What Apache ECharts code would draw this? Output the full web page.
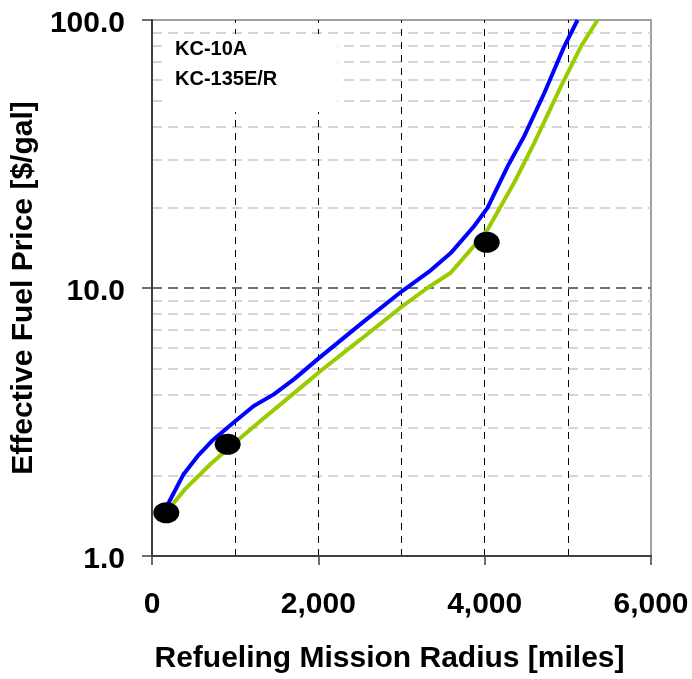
<!DOCTYPE html>
<html>
<head>
<meta charset="utf-8">
<script src="https://cdn.jsdelivr.net/npm/echarts@6/dist/echarts.min.js"></script>
<style>
  html, body { margin: 0; padding: 0; background: #fff; }
  #chart { width: 692px; height: 679px; }
</style>
</head>
<body>
<div id="chart"></div>
<script>
// 数据
var kc10Radius = [175, 200, 380, 560, 722, 1003, 1223, 1464, 1705, 2000, 2500, 3000, 3331, 3592, 3872, 4034, 4275, 4474, 4716, 4956, 5117];
var kc10Price = [1.47, 1.58, 2.02, 2.38, 2.69, 3.19, 3.63, 4.01, 4.56, 5.45, 7.3, 9.7, 11.5, 13.5, 17.0, 19.9, 28.4, 36.8, 53.3, 79.6, 100];
var kc135Radius = [175, 241, 401, 702, 1023, 1304, 1545, 1906, 2000, 2500, 3000, 3311, 3592, 3833, 4034, 4354, 4595, 4916, 5157, 5358];
var kc135Price = [1.47, 1.55, 1.78, 2.20, 2.69, 3.19, 3.68, 4.56, 4.83, 6.4, 8.5, 10.0, 11.4, 13.9, 16.5, 24.7, 34.7, 56.4, 79.6, 100];
var pointRadius = [172, 910, 4025];
var pointPrice = [1.45, 2.61, 14.8];

var xTickValues = [0, 2000, 4000, 6000];
var xGridValues = [1000, 2000, 3000, 4000, 5000];
var yMajorGrid = [10];
var yMinorGrid = [2, 3, 4, 5, 6, 7, 8, 9, 20, 30, 40, 50, 60, 70, 80, 90];

var font = 'Liberation Sans, Arial, sans-serif';

function pairs(xs, ys) {
    var out = [];
    for (var i = 0; i < xs.length; i++) {
        out.push([xs[i], ys[i]]);
    }
    return out;
}

function lines(values, axis, style) {
    return values.map(function (v) {
        var d = {lineStyle: style};
        d[axis] = v;
        return d;
    });
}

var gridLines = []
    .concat(lines(yMinorGrid, 'yAxis', {color: '#c8c8c8', width: 1.5, type: [10, 6]}))
    .concat(lines(yMajorGrid, 'yAxis', {color: '#707070', width: 2, type: [10, 6]}))
    .concat(lines(xGridValues, 'xAxis', {color: '#000', width: 1, type: [7, 6]}));

var myChart = echarts.init(document.getElementById('chart'));

var option = {
    animation: false,
    backgroundColor: '#fff',
    textStyle: {fontFamily: font},
    grid: {
        left: 152, right: 41, top: 20, bottom: 122,
        show: true,
        borderColor: '#a0a0a0',
        borderWidth: 2
    },
    legend: {
        data: ['KC-10A', 'KC-135E/R'],
        orient: 'vertical',
        left: 168,
        top: 34,
        icon: 'none',
        itemWidth: 2,
        itemHeight: 14,
        itemGap: 10,
        itemStyle: {opacity: 0},
        lineStyle: {opacity: 0},
        selectedMode: false,
        backgroundColor: '#fff',
        padding: [5, 60, 23, 0],
        textStyle: {fontFamily: font, fontSize: 20, fontWeight: 'bold', color: '#000', lineHeight: 20}
    },
    xAxis: {
        type: 'value',
        min: 0,
        max: 6000,
        interval: 1000,
        z: 3,
        name: 'Refueling Mission Radius [miles]',
        nameLocation: 'middle',
        nameGap: 88,
        nameTextStyle: {fontFamily: font, fontSize: 30, fontWeight: 'bold', color: '#000', padding: [0, 24, 0, 0]},
        axisLine: {lineStyle: {color: '#404040', width: 2}},
        axisTick: {show: true, length: 9, customValues: xTickValues, lineStyle: {color: '#404040', width: 1.5}},
        axisLabel: {
            customValues: xTickValues,
            margin: 34,
            fontFamily: font,
            fontSize: 30,
            fontWeight: 'bold',
            color: '#000',
            formatter: function (v) {
                if (v % 2000 !== 0) return '';
                return v.toLocaleString('en-US');
            }
        },
        splitLine: {show: false}
    },
    yAxis: {
        type: 'log',
        logBase: 10,
        min: 1,
        max: 100,
        z: 3,
        name: 'Effective Fuel Price [$/gal]',
        nameLocation: 'middle',
        nameGap: 105,
        nameTextStyle: {fontFamily: font, fontSize: 30, fontWeight: 'bold', color: '#000'},
        axisLine: {lineStyle: {color: '#404040', width: 2}},
        axisTick: {show: true, length: 10, lineStyle: {color: '#404040', width: 1.5}},
        axisLabel: {
            margin: 27,
            fontFamily: font,
            fontSize: 30,
            fontWeight: 'bold',
            color: '#000',
            formatter: function (v) { return '{v|' + Number(v).toFixed(1) + '}'; },
            rich: {
                v: {fontFamily: font, fontSize: 30, fontWeight: 'bold', color: '#000', padding: [7, 0, 0, 0]}
            }
        },
        splitLine: {show: false},
        minorTick: {show: false}
    },
    series: [
        {
            name: 'points',
            type: 'scatter',
            z: 3,
            symbol: 'circle',
            symbolSize: [26, 21],
            itemStyle: {color: '#000', opacity: 1},
            data: pairs(pointRadius, pointPrice),
            markLine: {
                silent: true,
                z: 1,
                symbol: 'none',
                label: {show: false},
                animation: false,
                data: gridLines
            }
        },
        {
            name: 'KC-10A',
            type: 'line',
            showSymbol: false,
            symbol: 'none',
            lineStyle: {color: '#0000ff', width: 4},
            itemStyle: {color: '#0000ff'},
            data: pairs(kc10Radius, kc10Price)
        },
        {
            name: 'KC-135E/R',
            type: 'line',
            showSymbol: false,
            symbol: 'none',
            lineStyle: {color: '#99cc00', width: 4},
            itemStyle: {color: '#99cc00'},
            data: pairs(kc135Radius, kc135Price)
        }
    ]
};

// 渲染
myChart.setOption(option);
</script>
</body>
</html>
